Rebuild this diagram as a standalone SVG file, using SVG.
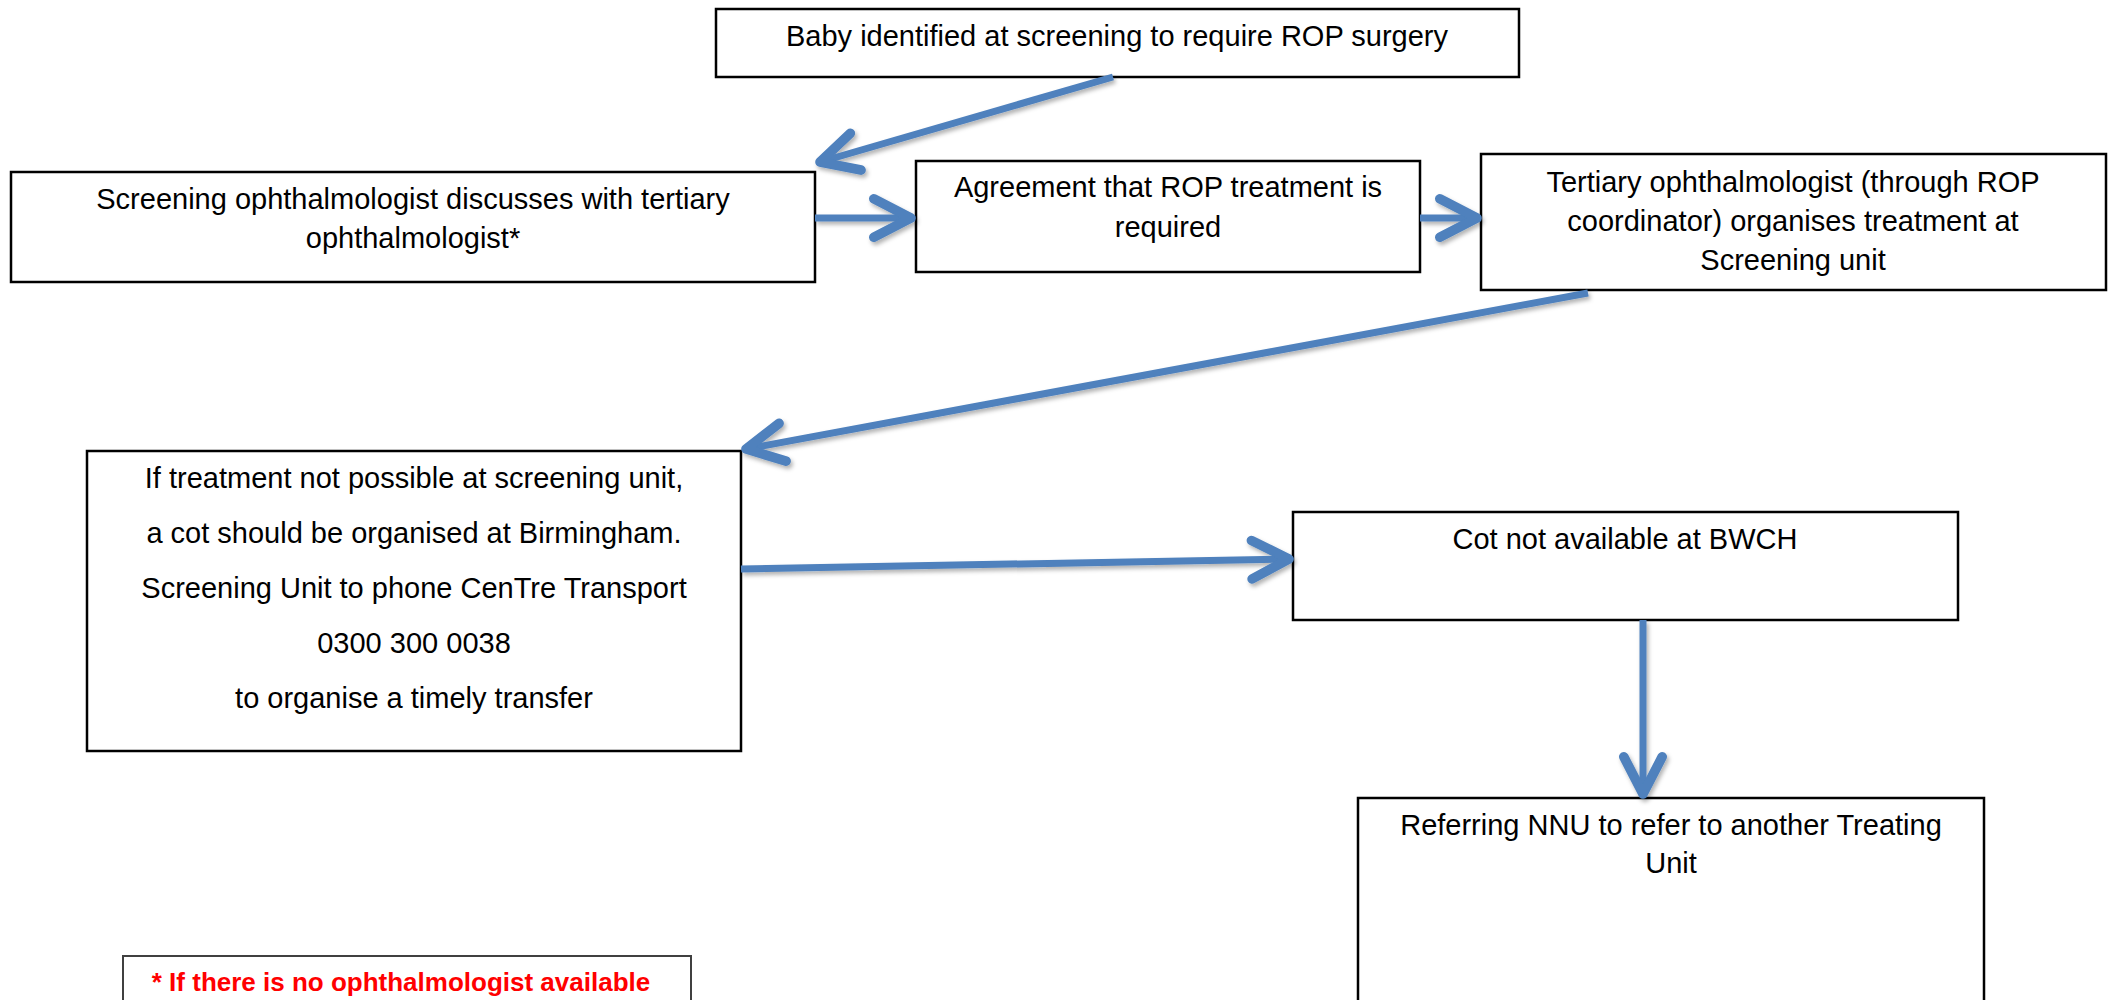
<svg xmlns="http://www.w3.org/2000/svg" width="2114" height="1000" viewBox="0 0 2114 1000">
<style>
  .box { fill: #ffffff; stroke: #000000; stroke-width: 2.5; }
  .note { fill: #ffffff; stroke: #404040; stroke-width: 2; }
  .t { font-family: "Liberation Sans", Arial, sans-serif; font-size: 29px; fill: #000000; text-anchor: middle; }
  .red { font-family: "Liberation Sans", Arial, sans-serif; font-size: 26px; font-weight: bold; fill: #ff0000; text-anchor: middle; }
  .conn { fill: none; stroke: #4f81bd; stroke-width: 7; stroke-linecap: butt; }
</style>
<defs>
  <marker id="head" markerUnits="userSpaceOnUse" markerWidth="60" markerHeight="60" viewBox="-40 -25 50 50" refX="0" refY="0" orient="auto" overflow="visible">
    <path d="M -31,-16 L 0,0 L -31,16" fill="none" stroke="#4f81bd" stroke-width="8" stroke-linecap="round" stroke-linejoin="round"/>
  </marker>
  <filter id="sh" x="-10%" y="-10%" width="120%" height="130%">
    <feDropShadow dx="2" dy="3" stdDeviation="2" flood-color="#000000" flood-opacity="0.3"/>
  </filter>
</defs>
<rect width="2114" height="1000" fill="#ffffff"/>

<g id="n1">
  <rect class="box" x="716" y="9" width="803" height="68"/>
  <text class="t" x="1117" y="46">Baby identified at screening to require ROP surgery</text>
</g>
<g id="n2">
  <rect class="box" x="11" y="172" width="804" height="110"/>
  <text class="t" x="413" y="209">Screening ophthalmologist discusses with tertiary</text>
  <text class="t" x="413" y="248">ophthalmologist*</text>
</g>
<g id="n3">
  <rect class="box" x="916" y="161" width="504" height="111"/>
  <text class="t" x="1168" y="197">Agreement that ROP treatment is</text>
  <text class="t" x="1168" y="237">required</text>
</g>
<g id="n4">
  <rect class="box" x="1481" y="154" width="625" height="136"/>
  <text class="t" x="1793" y="192">Tertiary ophthalmologist (through ROP</text>
  <text class="t" x="1793" y="231">coordinator) organises treatment at</text>
  <text class="t" x="1793" y="270">Screening unit</text>
</g>
<g id="n5">
  <rect class="box" x="87" y="451" width="654" height="300"/>
  <text class="t" x="414" y="488">If treatment not possible at screening unit,</text>
  <text class="t" x="414" y="543">a cot should be organised at Birmingham.</text>
  <text class="t" x="414" y="598">Screening Unit to phone CenTre Transport</text>
  <text class="t" x="414" y="653">0300 300 0038</text>
  <text class="t" x="414" y="708">to organise a timely transfer</text>
</g>
<g id="n6">
  <rect class="box" x="1293" y="512" width="665" height="108"/>
  <text class="t" x="1625" y="549">Cot not available at BWCH</text>
</g>
<g id="n7">
  <rect class="box" x="1358" y="798" width="626" height="220"/>
  <text class="t" x="1671" y="835">Referring NNU to refer to another Treating</text>
  <text class="t" x="1671" y="873">Unit</text>
</g>
<g id="n8">
  <rect class="note" x="123" y="956" width="568" height="60"/>
  <text class="red" x="401" y="991">* If there is no ophthalmologist available</text>
</g>

<g id="connectors" filter="url(#sh)">
  <path class="conn" d="M 1113,77 L 820,162" marker-end="url(#head)"/>
  <path class="conn" d="M 815,218 L 911,218" marker-end="url(#head)"/>
  <path class="conn" d="M 1420,218 L 1477,218" marker-end="url(#head)"/>
  <path class="conn" d="M 1588,293 L 746,449" marker-end="url(#head)"/>
  <path class="conn" d="M 741,569 L 1289,559" marker-end="url(#head)"/>
  <path class="conn" d="M 1643,620 L 1643,794" marker-end="url(#head)"/>
</g>
</svg>
